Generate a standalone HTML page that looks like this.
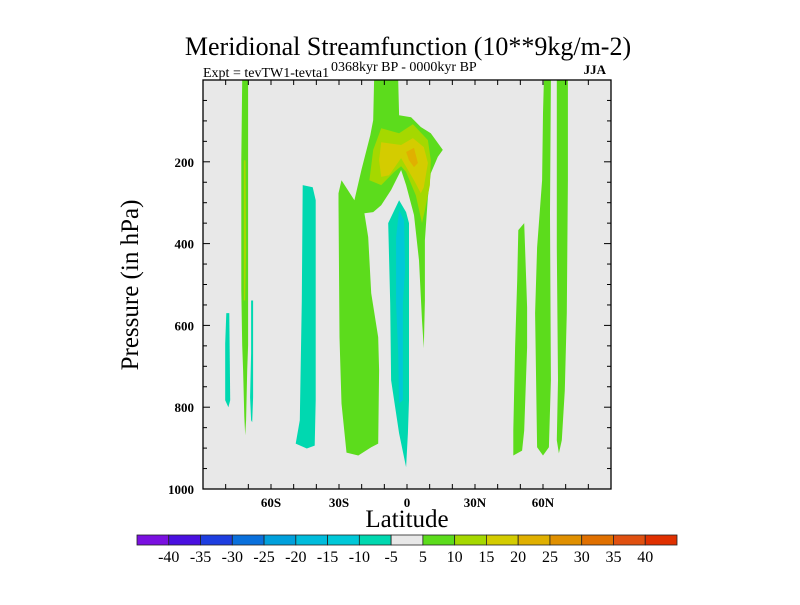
<!DOCTYPE html>
<html><head><meta charset="utf-8"><style>
html,body{margin:0;padding:0;background:#fff;}
svg text{font-family:"Liberation Serif",serif;}
</style></head><body>
<svg id="chart" width="800" height="600" viewBox="0 0 800 600" xmlns="http://www.w3.org/2000/svg">
<text x="408" y="55" font-size="26" text-anchor="middle">Meridional Streamfunction (10**9kg/m-2)</text>
<text x="203" y="77" font-size="14">Expt = tevTW1-tevta1</text>
<text x="331" y="71" font-size="14">0368kyr BP - 0000kyr BP</text>
<text x="606" y="74" font-size="13" font-weight="bold" text-anchor="end">JJA</text>
<rect x="203" y="80" width="408" height="409" fill="#e8e8e8"/>
<g id="fills"></g>
<rect x="203" y="80" width="408" height="409" fill="none" stroke="#000" stroke-width="1.3"/>
<g id="ticks"></g>
<text transform="translate(138,285) rotate(-90)" font-size="25" text-anchor="middle">Pressure (in hPa)</text>
<text x="407" y="527" font-size="25" text-anchor="middle">Latitude</text>
<g id="cbar"></g>
</svg>
<script>
const latTicks=[-60,-30,0,30,60];
const latTickLabels=["60S","30S","0","30N","60N"];
const presTicks=[200,400,600,800,1000];
const levels=[-40,-35,-30,-25,-20,-15,-10,-5,5,10,15,20,25,30,35,40];
const levelColors=["#7a10e0","#4a10e0","#1e3ee0","#0a70dc","#00a0dc","#00bcdc","#00c8d8","#00d8b0","#e8e8e8","#5cdc1c","#a5d800","#d4cc00","#e0b000","#e09000","#e07000","#e05010","#e03000"];
// contour regions: [lat, pressure] vertices
const greenMain=[[-14.5,0],[-3.9,0],[-3.5,86],[1.8,91],[6.1,115],[10.5,130],[15.8,171],[13.6,188],[10.5,228],[9.2,286],[7.9,392],[7.9,539],[7.4,656],[6.6,588],[5.3,441],[3.1,330],[-0.4,257],[-2.6,220],[-7,269],[-11.4,306],[-14.9,323],[-18.8,326],[-17.1,384],[-15.8,521],[-12.7,629],[-12.3,710],[-12.7,889],[-15.8,898],[-21.5,918],[-26.7,911],[-28.9,791],[-29.8,629],[-30.2,301],[-30.2,277],[-28.9,245],[-23.2,294],[-20.1,220],[-16.2,135],[-14.9,98]];
const lightGreen=[[-11.4,118],[-3.5,130],[2.6,108],[9.2,147],[10.5,196],[10.1,257],[7.9,318],[6.6,350],[3.9,282],[-0.4,225],[-2.6,211],[-5.7,225],[-11.4,257],[-16.6,245],[-14.9,171]];
const yellow=[[-11.4,152],[-2.6,159],[2.6,142],[7.4,164],[9.2,203],[7.4,262],[6.1,277],[3.1,245],[-2.6,191],[-7.9,233],[-11.4,237],[-12.3,196]];
const orange=[[-0.4,176],[3.1,166],[4.8,203],[3.1,213],[0.9,196]];
const cyanEq=[[-3.5,294],[-0.4,323],[0.9,350],[0.9,546],[0.9,783],[0.4,864],[-0.4,947],[-3.5,864],[-7,734],[-7.4,546],[-8.3,350],[-7,335]];
const cyanEqInner=[[-3.5,318],[-1.3,343],[-0.9,465],[-1.8,546],[-1.8,783],[-3.5,791],[-3.9,668],[-4.8,546],[-4.8,384]];
const cyan45S=[[-46,257],[-41.6,262],[-40.3,294],[-40.3,783],[-40.7,894],[-44.2,901],[-49.1,889],[-47.3,832],[-46.4,539]];
const green72S=[[-72.7,0],[-70.1,0],[-70.1,649],[-70.5,710],[-71,832],[-71.4,869],[-71.8,823],[-72.3,710],[-72.7,649],[-73.1,514],[-73.1,196]];
const lightGreen72S=[[-72,196],[-71.2,196],[-71,416],[-71.4,539],[-72,539]];
const cyan79S=[[-79.7,570],[-78.4,570],[-78,783],[-78.8,800],[-80.2,783],[-80.2,644]];
const cyan68S=[[-68.8,539],[-67.9,539],[-67.9,776],[-68.3,837],[-68.8,832],[-69.2,776],[-68.8,668]];
const green50N=[[49.1,367],[51.7,350],[52.6,490],[53,556],[53,654],[51.7,857],[50.8,906],[46.9,918],[46.9,857],[47.7,654],[48.6,490]];
const green60N=[[60.4,0],[63.5,0],[63.1,326],[63.5,734],[62.6,898],[60,918],[57.4,898],[56.5,570],[57.4,409],[59.6,245],[60,81]];
const green68N=[[66.1,0],[71,0],[71,245],[70.5,570],[69.6,759],[68.3,881],[67,913],[66.1,881],[66.6,734],[66.1,409]];

const X0=203,X1=611,Y0=80,Y1=489;
const xs=lat=>X0+(lat+90)/180*(X1-X0);
const ys=p=>Y0+p/1000*(Y1-Y0);
const NS="http://www.w3.org/2000/svg";
function mk(tag,attrs,parent){const e=document.createElementNS(NS,tag);for(const k in attrs)e.setAttribute(k,attrs[k]);parent.appendChild(e);return e;}
const fills=document.getElementById('fills');
function region(pts,color,name){
  const e=mk('polygon',{points:pts.map(d=>xs(d[0]).toFixed(1)+','+ys(d[1]).toFixed(1)).join(' '),fill:color},fills);
  
  
}
region(greenMain,levelColors[9],'region-positive-5-main');
region(lightGreen,levelColors[10],'region-positive-10');
region(yellow,levelColors[11],'region-positive-15');
region(orange,levelColors[12],'region-positive-20');
region(cyanEq,levelColors[7],'region-negative-5-equator');
region(cyanEqInner,levelColors[6],'region-negative-10-equator');
region(cyan45S,levelColors[7],'region-negative-5-45s');
region(green72S,levelColors[9],'region-positive-5-72s');
region(lightGreen72S,levelColors[10],'region-positive-10-72s');
region(cyan79S,levelColors[7],'region-negative-5-79s');
region(cyan68S,levelColors[7],'region-negative-5-68s');
region(green50N,levelColors[9],'region-positive-5-50n');
region(green60N,levelColors[9],'region-positive-5-60n');
region(green68N,levelColors[9],'region-positive-5-68n');

const tk=document.getElementById('ticks');
for(let lat=-80;lat<=80;lat+=10){
  const x=xs(lat);
  const l1=mk('line',{x1:x,x2:x,y1:Y1,y2:Y1-5,stroke:'#000','stroke-width':1},tk);
  
  
  const l2=mk('line',{x1:x,x2:x,y1:Y0,y2:Y0+5,stroke:'#000','stroke-width':1},tk);
  
  
}
latTicks.forEach((lat,i)=>{
  const t=mk('text',{x:xs(lat),y:507,'font-size':13,'font-weight':'bold','text-anchor':'middle'},tk);
  t.textContent=latTickLabels[i];
  
  
});
for(let p=50;p<1000;p+=50){
  const y=ys(p), len=(p%200===0)?7:4;
  const l1=mk('line',{x1:X0,x2:X0+len,y1:y,y2:y,stroke:'#000','stroke-width':1},tk);
  
  
  const l2=mk('line',{x1:X1,x2:X1-len,y1:y,y2:y,stroke:'#000','stroke-width':1},tk);
  
  
}
presTicks.forEach(p=>{
  const t=mk('text',{x:194,y:ys(p)+5,'font-size':13,'font-weight':'bold','text-anchor':'end'},tk);
  t.textContent=String(p);
  
  
});

const cb=document.getElementById('cbar');
const CX0=137,CX1=677,CY=535,CH=10,bw=(CX1-CX0)/levelColors.length;
levelColors.forEach((c,i)=>{
  const r=mk('rect',{x:CX0+i*bw,y:CY,width:bw,height:CH,fill:c,stroke:'#222','stroke-width':0.8},cb);
  
  
});
levels.forEach((v,i)=>{
  const t=mk('text',{x:CX0+(i+1)*bw,y:562,'font-size':16,'text-anchor':'middle'},cb);
  t.textContent=String(v);
  
  
});
</script>
</body></html>
